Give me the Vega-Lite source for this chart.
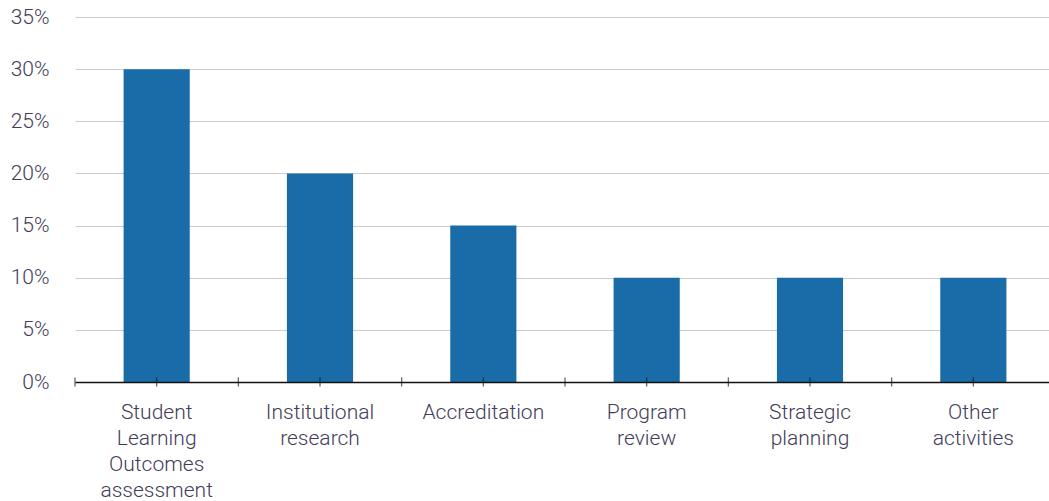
{
  "$schema": "https://vega.github.io/schema/vega-lite/v6.json",
  "width": 980,
  "height": 365,
  "autosize": "none",
  "padding": {"left": 75, "top": 17, "right": 0, "bottom": 119},
  "background": "white",
  "config": {
    "view": {"stroke": null},
    "font": "Roboto",
    "axis": {"labelFont": "Roboto", "labelFontWeight": 300, "labelColor": "#423c58", "labelFontSize": 21}
  },
  "data": {
    "values": [
      {"activity": "Student Learning Outcomes assessment", "share": 0.30},
      {"activity": "Institutional research", "share": 0.20},
      {"activity": "Accreditation", "share": 0.15},
      {"activity": "Program review", "share": 0.10},
      {"activity": "Strategic planning", "share": 0.10},
      {"activity": "Other activities", "share": 0.10}
    ]
  },
  "encoding": {
    "x": {
      "field": "activity",
      "type": "nominal",
      "sort": null,
      "scale": {"paddingInner": 0, "paddingOuter": 0},
      "axis": {
        "title": null,
        "labelAngle": 0,
        "labelExpr": "split(datum.value, ' ')",
        "labelLineHeight": 26,
        "labelPadding": 19,
        "labelBaseline": "top",
        "ticks": false,
        "domain": true,
        "domainColor": "#111111",
        "domainWidth": 1.5,
        "grid": false,
        "zindex": 1
      }
    }
  },
  "layer": [
    {
      "mark": {"type": "bar", "color": "#196ca7", "width": {"band": 0.405}},
      "encoding": {
        "y": {
          "field": "share",
          "type": "quantitative",
          "scale": {"domain": [0, 0.35], "nice": false},
          "axis": {
            "title": null,
            "format": ".0%",
            "values": [0, 0.05, 0.1, 0.15, 0.2, 0.25, 0.3, 0.35],
            "domain": false,
            "ticks": false,
            "labelPadding": 26,
            "gridColor": "#cccccc",
            "gridWidth": 1
          }
        }
      }
    },
    {
      "mark": {"type": "tick", "orient": "vertical", "color": "#111111", "thickness": 1.2, "size": 9},
      "encoding": {"y": {"datum": 0, "type": "quantitative"}}
    },
    {
      "mark": {"type": "tick", "orient": "vertical", "color": "#111111", "thickness": 1.2, "size": 9},
      "encoding": {
        "x": {"field": "activity", "type": "nominal", "sort": null, "bandPosition": 0},
        "y": {"datum": 0, "type": "quantitative"}
      }
    }
  ]
}
